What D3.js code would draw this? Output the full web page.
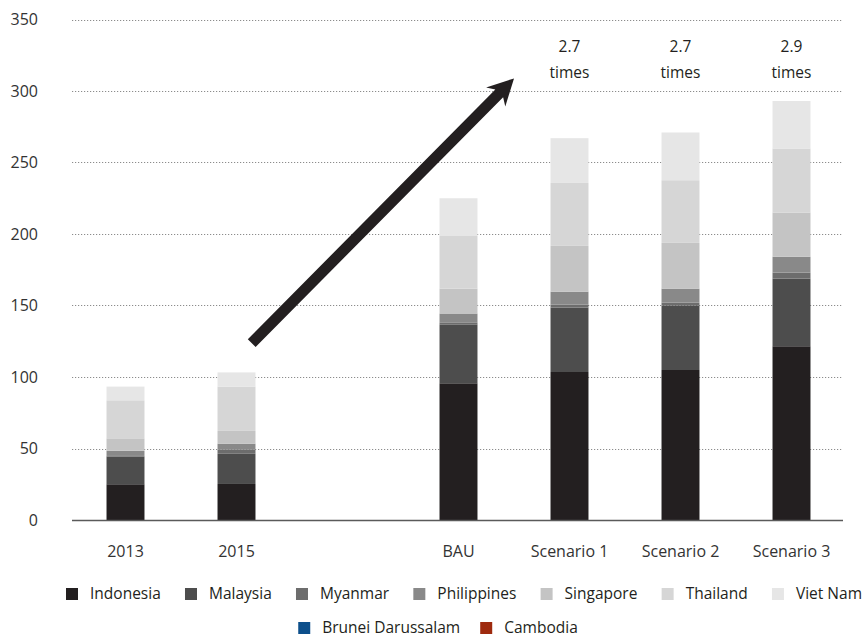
<!DOCTYPE html>
<html>
<head>
<meta charset="utf-8">
<script src="https://cdn.jsdelivr.net/npm/d3@7"></script>
<style>
  body { margin: 0; background: #fff; }
  svg { font-family: "Open Sans", "Noto Sans", sans-serif; display: block; }
</style>
</head>
<body>
<svg id="chart" width="864" height="638"></svg>
<script>
// Stacked totals per scenario, by country
const categories = ["2013", "2015", "BAU", "Scenario 1", "Scenario 2", "Scenario 3"];
// x slots: an empty slot separates the historical years from the projections
const slots = ["2013", "2015", "__gap__", "BAU", "Scenario 1", "Scenario 2", "Scenario 3"];

const countries = ["Indonesia", "Malaysia", "Myanmar", "Philippines", "Singapore",
                   "Thailand", "Viet Nam", "Brunei Darussalam", "Cambodia"];

const indonesia   = [25.0, 25.2, 95.6, 103.5, 104.9, 121.5];
const malaysia    = [19.3, 21.1, 41.2, 45.1, 45.1, 47.3];
const myanmar     = [0.5, 2.8, 1.4, 2.1, 2.0, 4.2];
const philippines = [3.6, 4.3, 6.2, 9.0, 9.8, 11.1];
const singapore   = [8.7, 8.9, 17.4, 32.0, 32.0, 30.9];
const thailand    = [26.6, 31.0, 36.8, 44.0, 43.8, 44.8];
const vietNam     = [9.6, 9.9, 26.4, 31.3, 33.4, 33.2];
const brunei      = [0, 0, 0, 0, 0, 0];
const cambodia    = [0, 0, 0, 0, 0, 0];

const seriesValues = [indonesia, malaysia, myanmar, philippines, singapore,
                      thailand, vietNam, brunei, cambodia];

const seriesColors = ["#231f20", "#4d4d4d", "#6d6d6d", "#898989", "#c4c4c4",
                      "#d6d6d6", "#e6e6e6", "#0d4f8b", "#9e2a0e"];

const yTicks = [0, 50, 100, 150, 200, 250, 300, 350];

// growth multiples printed above the scenario bars
const multipleLabels = ["", "", "", "2.7", "2.7", "2.9"];

// growth arrow, in (slot index, value) units
const arrowFrom = [1.137, 123.7];
const arrowTo   = [3.50, 308.8];

const svg = d3.select("#chart");
const plot = { left: 72, right: 843, top: 19.5, bottom: 520 };

const x = d3.scaleBand()
  .domain(slots)
  .range([70, 847])
  .paddingInner(0.658)
  .paddingOuter(0.329);

const y = d3.scaleLinear()
  .domain([0, 350])
  .range([plot.bottom, plot.top]);

const slotX = d3.scaleLinear()
  .domain([0, slots.length - 1])
  .range([x(slots[0]) + x.bandwidth() / 2, x(slots[slots.length - 1]) + x.bandwidth() / 2]);

// gridlines
svg.append("g")
  .selectAll("line")
  .data(yTicks.filter(d => d > 0))
  .join("line")
  .attr("x1", plot.left).attr("x2", plot.right)
  .attr("y1", d => Math.round(y(d)) + 0.5).attr("y2", d => Math.round(y(d)) + 0.5)
  .attr("stroke", "#8c8c8c")
  .attr("stroke-width", 1.2)
  .attr("stroke-dasharray", "1.2 1.8");

// stacked bars
const table = categories.map((c, i) => {
  const row = { category: c };
  countries.forEach((k, j) => { row[k] = seriesValues[j][i]; });
  return row;
});
const stacked = d3.stack().keys(countries)(table);

svg.append("g")
  .selectAll("g")
  .data(stacked)
  .join("g")
  .attr("fill", (d, i) => seriesColors[i])
  .selectAll("rect")
  .data(d => d)
  .join("rect")
  .attr("x", d => x(d.data.category))
  .attr("width", x.bandwidth())
  .attr("y", d => y(d[1]))
  .attr("height", d => Math.max(0, y(d[0]) - y(d[1])));

// baseline
svg.append("line")
  .attr("x1", plot.left).attr("x2", plot.right)
  .attr("y1", y(0) + 0.5).attr("y2", y(0) + 0.5)
  .attr("stroke", "#5a5a5a")
  .attr("stroke-width", 1.6);

// y axis labels
const yAxis = svg.append("g")
  .attr("transform", `translate(${plot.left},0)`)
  .call(d3.axisLeft(y).tickValues(yTicks).tickSize(0).tickPadding(34));
yAxis.select(".domain").remove();
yAxis.selectAll("text")
  .attr("font-size", 16)
  .attr("fill", "#333")
  .attr("font-family", "'Open Sans', sans-serif");

// x axis labels
const xAxis = svg.append("g")
  .attr("transform", `translate(0,${plot.bottom})`)
  .call(d3.axisBottom(x).tickSize(0).tickPadding(26)
    .tickFormat(d => d === "__gap__" ? "" : d));
xAxis.select(".domain").remove();
xAxis.selectAll("text")
  .attr("font-size", 16)
  .attr("fill", "#333")
  .attr("font-family", "'Open Sans', sans-serif");

// growth multiples
const mult = svg.append("g")
  .selectAll("g")
  .data(categories.map((c, i) => ({ c, m: multipleLabels[i] })).filter(d => d.m))
  .join("g")
  .attr("transform", d => `translate(${x(d.c) + x.bandwidth() / 2},0)`)
  .attr("font-size", 15.5)
  .attr("fill", "#231f20")
  .attr("text-anchor", "middle");
mult.append("text").attr("y", 52).text(d => d.m);
mult.append("text").attr("y", 78).text("times");

// growth arrow
(function drawArrow() {
  const x0 = slotX(arrowFrom[0]), y0 = y(arrowFrom[1]);
  const x1 = slotX(arrowTo[0]),   y1 = y(arrowTo[1]);
  const dx = x1 - x0, dy = y1 - y0, len = Math.hypot(dx, dy);
  const ux = dx / len, uy = dy / len;      // along the arrow
  const px = -uy, py = ux;                 // perpendicular
  const shaft = 5.5, headLen = 26, headHalf = 13.5, notch = 5;
  const bx = x1 - ux * headLen, by = y1 - uy * headLen;       // back of head
  const nx = x1 - ux * (headLen - notch), ny = y1 - uy * (headLen - notch);
  const pts = [
    [x0 + px * shaft, y0 + py * shaft],
    [nx + px * shaft, ny + py * shaft],
    [bx + px * headHalf, by + py * headHalf],
    [x1, y1],
    [bx - px * headHalf, by - py * headHalf],
    [nx - px * shaft, ny - py * shaft],
    [x0 - px * shaft, y0 - py * shaft]
  ];
  svg.append("path")
    .attr("d", d3.line()(pts) + "Z")
    .attr("fill", "#231f20");
})();

// legend
const legendRows = [countries.slice(0, 7), countries.slice(7)];
const rowY = [594, 628];
const sq = 12, gapText = 12;
legendRows.forEach((keys, r) => {
  const g = svg.append("g").attr("font-size", 15.5).attr("fill", "#231f20");
  const items = g.selectAll("g").data(keys).join("g");
  items.append("rect")
    .attr("width", sq).attr("height", sq)
    .attr("y", rowY[r] - sq / 2)
    .attr("fill", k => seriesColors[countries.indexOf(k)]);
  items.append("text")
    .attr("x", sq + gapText)
    .attr("y", rowY[r])
    .attr("dy", "0.35em")
    .text(k => k);
  const widths = [];
  items.each(function () {
    widths.push(sq + gapText + this.querySelector("text").getComputedTextLength());
  });
  // first row spans the chart width; second row is centred under it
  let start, itemGap;
  if (r === 0) {
    start = 66;
    itemGap = (862 - start - d3.sum(widths)) / (widths.length - 1);
  } else {
    itemGap = 20;
    start = 438 - (d3.sum(widths) + itemGap * (widths.length - 1)) / 2;
  }
  let cx = 0;
  items.attr("transform", (d, i) => {
    const t = `translate(${start + cx},0)`;
    cx += widths[i] + itemGap;
    return t;
  });
});
</script>
</body>
</html>
